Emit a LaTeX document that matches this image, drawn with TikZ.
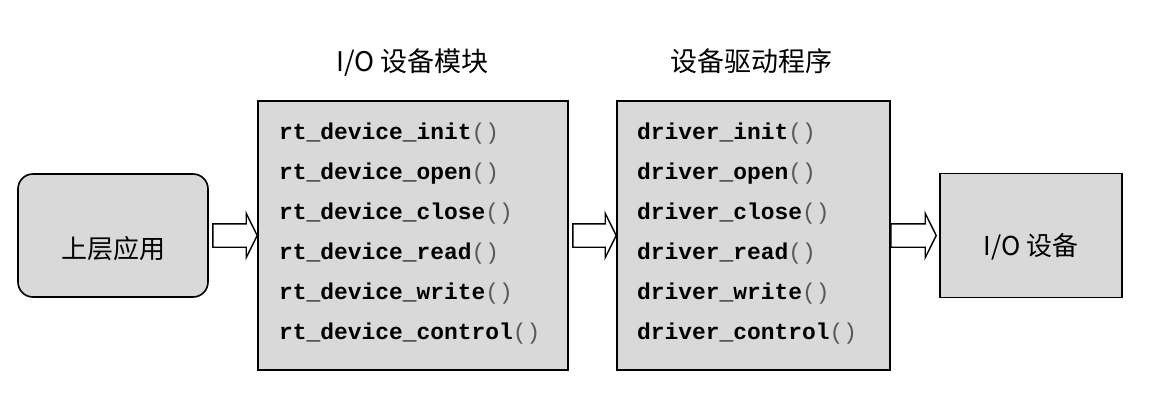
\documentclass[tikz,border=0pt]{standalone}
\usepackage{fontspec}
\newfontfamily\cjk{Noto Sans CJK SC}
\newfontfamily\code{Liberation Mono}
\usetikzlibrary{calc}
\definecolor{boxgray}{HTML}{D9D9D9}
\tikzset{
  box/.style={draw=black, line width=1.6pt, fill=boxgray, inner sep=0pt},
  arrowbox/.style={draw=black, line width=1.4pt, fill=white, line join=miter},
  title/.style={anchor=base, inner sep=0pt, font=\cjk\fontsize{27}{30}\selectfont},
  label/.style={anchor=base, inner sep=0pt, font=\cjk\fontsize{26}{30}\selectfont},
  fn/.style={anchor=base west, inner sep=0pt, font=\code\bfseries\fontsize{22.9}{27}\selectfont},
}
\newcommand{\paren}{{\mdseries\color{black!65}()}}
% #1 from, #2 to, #3 start gap, #4 end gap
\newcommand{\blockarrow}[4]{%
  \draw[arrowbox]
    ($(#1)+(#3,-11.7)$) -- ($(#2)+(-#4-11,-11.7)$) -- ($(#2)+(-#4-11,-22.2)$)
    -- ($(#2)+(-#4,0)$) -- ($(#2)+(-#4-11,22.2)$) -- ($(#2)+(-#4-11,11.7)$)
    -- ($(#1)+(#3,11.7)$) -- cycle;}
\begin{document}
\begin{tikzpicture}[x=1pt,y=-1pt]
\useasboundingbox (0,0) rectangle (1153,402);
% boxes
\node[box, rounded corners=15pt, minimum width=190pt, minimum height=123pt] (app) at (113,235.5) {};
\node[box, minimum width=310pt, minimum height=269pt] (mod) at (413,235.5) {};
\node[box, minimum width=273pt, minimum height=269pt] (drv) at (753.5,235.5) {};
\node[box, minimum width=182pt, minimum height=124pt] (dev) at (1031,235.5) {};
% titles
\node[title] (t1) at (412.5,71) {I/O 设备模块};
\node[title] (t2) at (751.5,71) {设备驱动程序};
% labels
\node[label] (l1) at (113,258) {上层应用};
\node[label] (l4) at (1031,255) {I/O 设备};
% function lists
\node[fn] (m1) at (279,139) {rt\_device\_init\paren};
\node[fn] (m2) at (279,179) {rt\_device\_open\paren};
\node[fn] (m3) at (279,219) {rt\_device\_close\paren};
\node[fn] (m4) at (279,259) {rt\_device\_read\paren};
\node[fn] (m5) at (279,299) {rt\_device\_write\paren};
\node[fn] (m6) at (279,339) {rt\_device\_control\paren};
\node[fn] (d1) at (637,139) {driver\_init\paren};
\node[fn] (d2) at (637,179) {driver\_open\paren};
\node[fn] (d3) at (637,219) {driver\_close\paren};
\node[fn] (d4) at (637,259) {driver\_read\paren};
\node[fn] (d5) at (637,299) {driver\_write\paren};
\node[fn] (d6) at (637,339) {driver\_control\paren};
% arrows
\blockarrow{app.east}{mod.west}{4}{0}
\blockarrow{mod.east}{drv.west}{4}{0}
\blockarrow{drv.east}{dev.west}{0}{3}
\end{tikzpicture}
\end{document}
